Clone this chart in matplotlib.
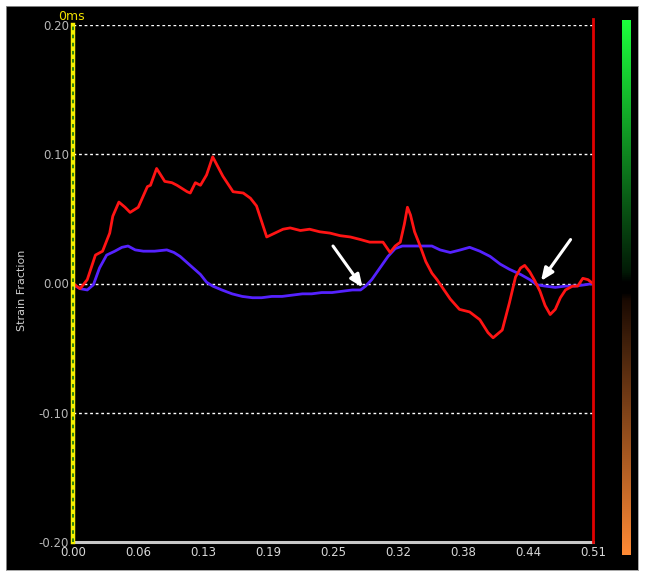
import numpy as np
import matplotlib
matplotlib.use("Agg")
import matplotlib.pyplot as plt
from matplotlib.colors import LinearSegmentedColormap

# ---- data ----
red_t = [0.000, 0.007, 0.014, 0.022, 0.029, 0.036, 0.039, 0.045, 0.051, 0.056, 0.064, 0.073, 0.076,
         0.082, 0.090, 0.097, 0.102, 0.112, 0.115, 0.120, 0.125, 0.131, 0.137, 0.147, 0.157, 0.167,
         0.174, 0.180, 0.185, 0.190, 0.198, 0.206, 0.213, 0.223, 0.232, 0.242, 0.252, 0.262, 0.272,
         0.282, 0.291, 0.304, 0.311, 0.316, 0.321, 0.325, 0.328, 0.331, 0.335, 0.340, 0.346, 0.352,
         0.357, 0.370, 0.379, 0.389, 0.399, 0.407, 0.412, 0.421, 0.428, 0.434, 0.439, 0.443, 0.448,
         0.453, 0.458, 0.463, 0.468, 0.473, 0.478, 0.483, 0.490, 0.495, 0.500, 0.505, 0.510]
red_s = [0.000, -0.004, 0.003, 0.022, 0.025, 0.039, 0.052, 0.063, 0.059, 0.055, 0.059, 0.075, 0.076,
         0.089, 0.079, 0.078, 0.076, 0.071, 0.070, 0.078, 0.076, 0.084, 0.098, 0.083, 0.071, 0.070,
         0.066, 0.060, 0.048, 0.036, 0.039, 0.042, 0.043, 0.041, 0.042, 0.040, 0.039, 0.037, 0.036,
         0.034, 0.032, 0.032, 0.024, 0.029, 0.032, 0.046, 0.059, 0.053, 0.040, 0.030, 0.017, 0.008,
         0.003, -0.012, -0.020, -0.022, -0.028, -0.038, -0.042, -0.036, -0.015, 0.005, 0.012, 0.014, 0.009,
         0.002, -0.006, -0.017, -0.024, -0.020, -0.011, -0.005, -0.002, -0.002, 0.004, 0.003, 0.000]

blue_t = [0.000, 0.007, 0.014, 0.020, 0.026, 0.033, 0.041, 0.048, 0.054, 0.061, 0.069, 0.080, 0.092,
          0.099, 0.105, 0.115, 0.125, 0.131, 0.137, 0.146, 0.156, 0.166, 0.176, 0.185, 0.195, 0.205,
          0.215, 0.225, 0.234, 0.244, 0.254, 0.264, 0.274, 0.282, 0.287, 0.293, 0.301, 0.309, 0.316,
          0.323, 0.333, 0.342, 0.352, 0.360, 0.370, 0.380, 0.389, 0.399, 0.409, 0.419, 0.428, 0.439,
          0.448, 0.455, 0.463, 0.473, 0.483, 0.492, 0.502, 0.510]
blue_s = [-0.001, -0.004, -0.005, -0.001, 0.012, 0.022, 0.025, 0.028, 0.029, 0.026, 0.025, 0.025, 0.026,
          0.024, 0.021, 0.014, 0.007, 0.001, -0.002, -0.005, -0.008, -0.010, -0.011, -0.011, -0.010, -0.010,
          -0.009, -0.008, -0.008, -0.007, -0.007, -0.006, -0.005, -0.005, -0.002, 0.003, 0.012, 0.021, 0.027,
          0.029, 0.029, 0.029, 0.029, 0.026, 0.024, 0.026, 0.028, 0.025, 0.021, 0.015, 0.011, 0.007,
          0.003, -0.001, -0.002, -0.003, -0.002, -0.002, -0.001, 0.000]

xtick_vals = [0.0, 0.06375, 0.1275, 0.19125, 0.255, 0.31875, 0.3825, 0.44625, 0.51]
xtick_labels = ["0.00", "0.06", "0.13", "0.19", "0.25", "0.32", "0.38", "0.44", "0.51"]
ytick_vals = [-0.2, -0.1, 0.0, 0.1, 0.2]
ytick_labels = ["-0.20", "-0.10", "0.00", "0.10", "0.20"]
grid_levels = [0.2, 0.1, 0.0, -0.1]

# arrows: (tail_t, tail_s, head_t, head_s)
arrows = [(0.255, 0.029, 0.284, -0.003), (0.488, 0.034, 0.459, 0.002)]

W, H = 645, 577
fig = plt.figure(figsize=(W / 100, H / 100), dpi=100, facecolor="white")

# black panel as a background axes
bg = fig.add_axes([6 / W, 1 - 570 / H, 632 / W, 564 / H], zorder=-5)
bg.set_facecolor("black")
bg.set_xticks([]); bg.set_yticks([])
for sp in bg.spines.values():
    sp.set_color("#999999"); sp.set_linewidth(0.6)

ax = fig.add_axes([73 / W, 1 - 542 / H, 520 / W, 517 / H], zorder=1)
ax.set_facecolor("black")
ax.set_xlim(0, 0.51)
ax.set_ylim(-0.2, 0.2)
for sp in ax.spines.values():
    sp.set_visible(False)

for g in grid_levels:
    ax.axhline(g, color="white", lw=1, ls=(0, (2, 2)), zorder=1)

ax.plot(blue_t, blue_s, color="#5522ff", lw=2, zorder=3, solid_joinstyle="round")
ax.plot(red_t, red_s, color="#ff1414", lw=2, zorder=4, solid_joinstyle="round")

# bottom axis
ax.axhline(-0.2, color="#c8c8c8", lw=2.2, zorder=2, clip_on=False)
# left yellow / green axis
ax.axvline(0, color="#f5f000", lw=3.2, zorder=5, clip_on=False)
ax.axvline(0, color="#1e7a10", lw=1.3, ls=(0, (2, 2.5)), zorder=6, clip_on=False)
# right red marker
ax.plot([0.51, 0.51], [-0.2, 0.205], color="#e00000", lw=2, zorder=5, clip_on=False)

for (t0, s0, t1, s1) in arrows:
    ax.annotate("", xy=(t1, s1), xytext=(t0, s0),
                arrowprops=dict(arrowstyle="-|>,head_length=0.75,head_width=0.32",
                                color="white", lw=2.2, shrinkA=0, shrinkB=0), zorder=7)

ax.set_xticks(xtick_vals)
ax.set_xticklabels(xtick_labels)
ax.set_yticks(ytick_vals)
ax.set_yticklabels(ytick_labels)
ax.tick_params(axis="x", length=0, pad=3, labelsize=8.5, labelcolor="#d8d8d8")
ax.tick_params(axis="y", length=0, pad=3, labelsize=8.5, labelcolor="#b8b8b8")

fig.text(22 / W, 1 - 290 / H, "Strain Fraction", rotation=90, color="#d0d0d0",
         fontsize=8, ha="center", va="center")
fig.text(71 / W, 1 - 16 / H, "0ms", color="#f0e000", fontsize=9,
         ha="center", va="center")

# color bar
cmap = LinearSegmentedColormap.from_list(
    "gb", [(0.0, "#ff8a35"), (0.475, "#1a0a02"), (0.49, "#000000"),
           (0.51, "#000000"), (0.53, "#021a06"), (1.0, "#1cff3c")])
cax = fig.add_axes([622 / W, 1 - 555 / H, 9 / W, 535 / H], zorder=1)
cax.imshow(np.linspace(0, 1, 256)[:, None], cmap=cmap, aspect="auto", origin="lower")
cax.set_axis_off()

fig.savefig("out.png", dpi=100, facecolor="white")
